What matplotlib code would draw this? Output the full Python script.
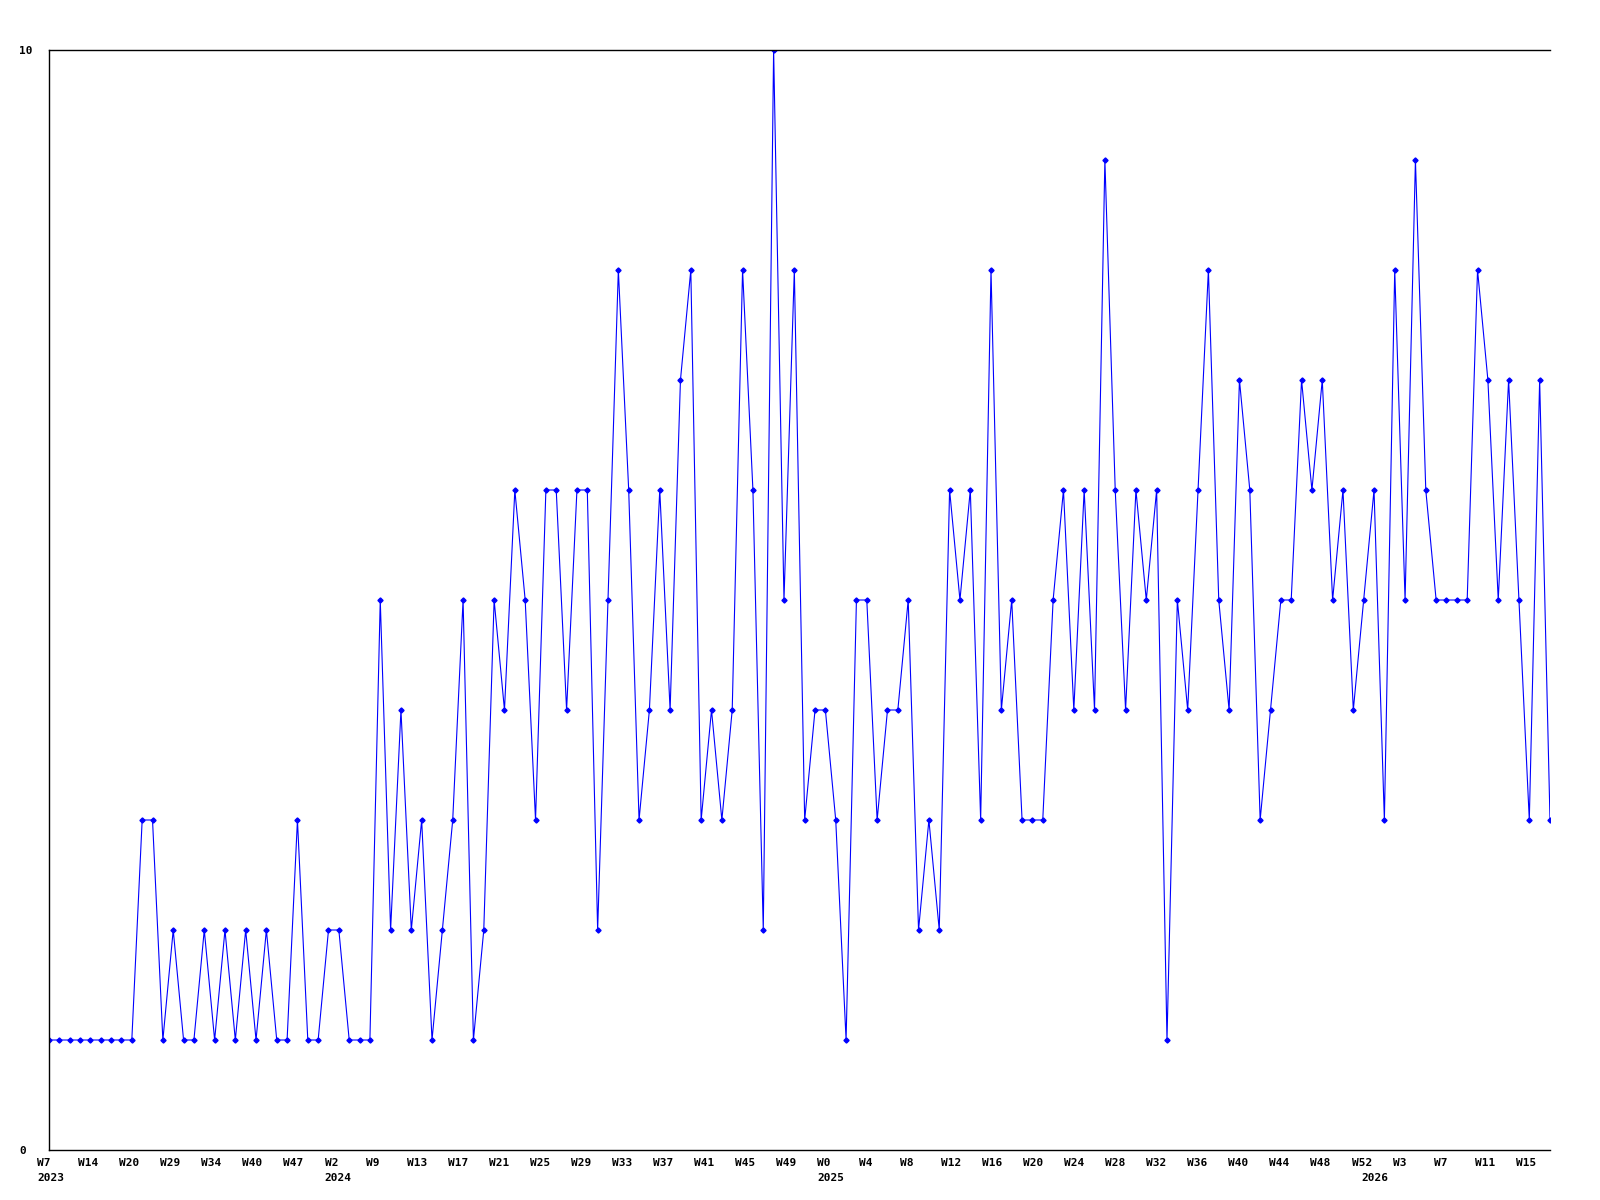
import matplotlib
matplotlib.use("Agg")
import matplotlib.pyplot as plt
import matplotlib.transforms as mtransforms

# valeurs hebdomadaires
values = [
    1, 1, 1, 1, 1, 1, 1, 1, 1, 3, 3, 1, 2, 1, 1, 2, 1, 2, 1, 2,
    1, 2, 1, 1, 3, 1, 1, 2, 2, 1, 1, 1, 5, 2, 4, 2, 3, 1, 2, 3,
    5, 1, 2, 5, 4, 6, 5, 3, 6, 6, 4, 6, 6, 2, 5, 8, 6, 3, 4, 6,
    4, 7, 8, 3, 4, 3, 4, 8, 6, 2, 10, 5, 8, 3, 4, 4, 3, 1, 5, 5,
    3, 4, 4, 5, 2, 3, 2, 6, 5, 6, 3, 8, 4, 5, 3, 3, 3, 5, 6, 4,
    6, 4, 9, 6, 4, 6, 5, 6, 1, 5, 4, 6, 8, 5, 4, 7, 6, 3, 4, 5,
    5, 7, 6, 7, 5, 6, 4, 5, 6, 3, 8, 5, 9, 6, 5, 5, 5, 5, 8, 7,
    5, 7, 5, 3, 7, 3,
]

# une étiquette toutes les 4 semaines
week_labels = [
    "W7", "W14", "W20", "W29", "W34", "W40", "W47", "W2", "W9", "W13",
    "W17", "W21", "W25", "W29", "W33", "W37", "W41", "W45", "W49", "W0",
    "W4", "W8", "W12", "W16", "W20", "W24", "W28", "W32", "W36", "W40",
    "W44", "W48", "W52", "W3", "W7", "W11", "W15",
]
label_step = 4

# début de chaque année (index du point)
year_names = ["2023", "2024", "2025", "2026"]
year_starts = [0, 28, 76, 129]

x = list(range(len(values)))

fig = plt.figure(figsize=(16, 12), dpi=100)
ax = fig.add_axes([49 / 1600, 50 / 1200, 1501 / 1600, 1100 / 1200])

ax.plot(x, values, color="#0000ff", linewidth=0.8,
        marker="D", markersize=2.6, markerfacecolor="#0000ff",
        markeredgecolor="#0000ff")

ax.set_xlim(0, len(values) - 1)
ax.set_ylim(0, 10)

for s in ["left", "bottom", "top"]:
    ax.spines[s].set_color("black")
    ax.spines[s].set_linewidth(1.0)
ax.spines["right"].set_visible(False)

font = dict(family="DejaVu Sans Mono", weight="bold", size=8)

# axe Y : seulement 0 et 10
ax.set_yticks([0, 10])
ax.set_yticklabels(["0", "10"], fontdict=font)
ax.tick_params(axis="y", length=0, pad=21.6)
for lab in ax.get_yticklabels():
    lab.set_horizontalalignment("left")

# axe X : étiquettes dessinées à la main
ax.set_xticks([])
trans = mtransforms.blended_transform_factory(ax.transData, ax.transAxes)
shift = mtransforms.ScaledTranslation(-12 / 100, -8 / 100, fig.dpi_scale_trans)
for k, lab in enumerate(week_labels):
    i = k * label_step
    off = mtransforms.ScaledTranslation(-(i / len(values)) * 12 / 100, 0,
                                        fig.dpi_scale_trans)
    ax.text(i, 0, lab, transform=trans + shift + off, ha="left", va="top",
            clip_on=False, **font)

shift2 = mtransforms.ScaledTranslation(-12 / 100, -23 / 100, fig.dpi_scale_trans)
for name, i in zip(year_names, year_starts):
    off = mtransforms.ScaledTranslation(-(i / len(values)) * 12 / 100, 0,
                                        fig.dpi_scale_trans)
    ax.text(i, 0, name, transform=trans + shift2 + off, ha="left", va="top",
            clip_on=False, **font)

fig.savefig("out.png", dpi=100, facecolor="white")
